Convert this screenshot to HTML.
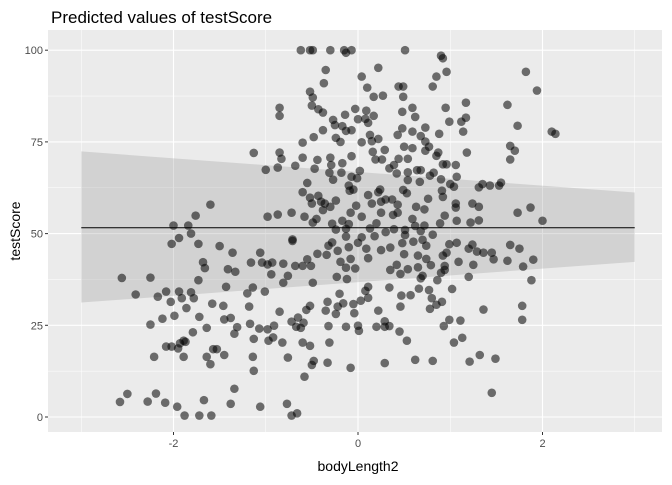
<!DOCTYPE html>
<html><head><meta charset="utf-8"><style>
body{margin:0;background:#fff;}
svg text{font-family:"Liberation Sans",sans-serif;}
</style></head><body>
<svg id="chart" width="672" height="480" viewBox="0 0 672 480" xmlns="http://www.w3.org/2000/svg">
<rect width="672" height="480" fill="#fff"/>
<text x="51" y="23" font-size="17" fill="#000">Predicted values of testScore</text>
<rect x="48" y="30" width="614" height="402" fill="#ebebeb"/>
<g id="grid"></g>
<g id="ribbon"></g>
<g id="points"></g>
<g id="line"></g>
<g id="axes"></g>
<text x="358" y="471" font-size="14" text-anchor="middle" fill="#000">bodyLength2</text>
<text transform="translate(20,231) rotate(-90)" font-size="14" text-anchor="middle" fill="#000">testScore</text>
</svg>
<script>
const xTicks=[-2,0,2];
const xMinor=[-3,-1,1,3];
const yTicks=[0,25,50,75,100];
const yMinor=[12.5,37.5,62.5,87.5];
const fitX=[-3,3];
const fitY=[51.6,51.6];
const lowerY=[31.2,42.3];
const upperY=[72.4,61.2];
const ptsX=[-0.62,-0.52,-0.49,-0.30,-0.15,-0.07,-0.13,-0.35,-0.37,-0.52,-0.49,-0.50,-0.43,-0.38,-0.85,-0.85,-0.03,-0.14,-0.27,-0.25,-0.17,-0.13,-0.07,-0.38,-0.48,-0.60,-0.24,-0.19,-1.13,-0.85,-0.83,-0.07,-0.60,-0.44,-0.30,-0.29,-0.17,-0.68,-0.87,-1.00,-0.47,-0.31,-0.18,-0.27,-0.07,-0.55,-0.10,-0.09,-0.60,-0.52,-0.43,-0.40,-0.50,-0.36,-0.24,-0.30,-0.02,-0.38,-0.08,-1.60,-1.76,-2.00,-1.84,-1.81,-1.94,-0.98,-0.87,-0.72,-0.58,-0.45,-0.49,-0.28,-0.17,-0.10,-0.24,-0.13,-0.71,-0.13,
0.51,0.90,0.92,0.96,0.85,0.81,1.82,1.94,0.22,0.04,0.10,0.44,0.49,0.17,0.27,0.49,1.17,1.62,0.09,0.48,0.59,0.95,0.17,0.62,0.00,0.08,0.11,0.99,1.12,1.17,1.73,2.10,2.14,1.14,0.48,0.43,0.59,0.73,0.68,0.88,0.13,0.22,0.04,0.15,0.50,0.59,0.73,0.77,0.73,0.29,0.16,0.85,0.87,1.18,1.65,1.70,1.65,0.44,0.54,0.19,0.26,0.39,0.34,0.42,0.54,0.64,0.68,0.92,0.96,1.06,0.02,-0.01,0.54,0.67,0.78,0.82,0.90,1.07,1.00,1.04,1.31,1.35,1.43,1.55,1.53,-0.05,0.24,0.22,0.49,0.53,0.11,0.30,0.37,0.25,0.15,0.76,0.92,0.91,0.43,0.63,0.72,1.06,1.06,1.24,1.31,0.04,0.25,0.43,0.38,0.94,1.73,1.87,0.59,1.07,1.22,1.31,2.00,0.89,0.20,0.13,0.30,0.39,0.51,0.62,0.72,0.68,0.81,0.04,0.18,0.51,
-2.02,-1.73,-1.50,-1.36,-0.71,-1.06,-1.68,-1.66,-1.41,-1.33,-1.16,-1.04,-0.98,-0.93,-0.81,-0.68,-0.60,-0.51,-0.55,-0.44,-0.34,-0.22,-0.32,-0.28,-0.10,-0.19,-0.08,-0.13,-0.03,-0.94,-0.76,-0.81,-0.49,-0.23,-0.12,-2.25,-1.73,-2.41,-2.17,-2.08,-1.94,-1.81,-1.78,-1.91,-2.03,-1.43,-1.14,-1.20,-1.01,-1.58,-1.46,-1.86,-1.18,-1.99,-2.12,-1.72,-2.25,-1.45,-1.38,-1.64,-1.79,-1.31,-1.34,-1.17,-1.07,-0.98,-0.91,-0.85,-1.89,-1.93,-1.87,-2.08,-2.02,-1.95,-1.57,-1.53,-1.45,-1.64,-1.60,-1.89,-2.21,-1.13,-1.14,-1.13,-0.97,-0.92,-0.82,-0.72,-0.65,-0.59,-0.67,-0.62,-0.52,-0.56,-0.35,-0.33,-0.24,-0.22,-0.16,-0.05,-0.04,-0.20,-0.32,-0.13,0.00,-0.60,-0.52,-0.31,-0.76,-0.48,-0.50,-0.33,-0.08,-0.58,-1.34,-2.19,-2.28,-2.09,-1.96,-1.67,-1.38,-1.06,-0.77,-1.88,-1.72,-1.59,-0.72,-0.66,-2.58,-2.50,-2.56,
0.00,0.09,0.25,0.35,0.48,0.60,0.70,0.74,0.99,1.07,1.24,1.20,1.29,1.36,1.45,1.47,1.62,1.65,1.75,1.90,1.79,1.88,0.96,0.92,0.65,0.74,0.50,0.11,0.42,0.54,0.46,0.35,0.65,0.79,0.94,0.94,1.09,1.25,1.20,0.90,0.68,0.86,0.70,0.34,0.11,0.08,0.11,0.03,0.66,0.77,0.47,0.57,0.80,1.02,0.91,0.85,0.78,0.46,0.22,1.36,1.78,1.78,0.99,1.11,0.93,0.01,0.20,0.29,0.29,0.34,0.45,0.53,1.13,1.04,1.32,1.49,1.21,0.62,0.81,0.29,1.45];
const ptsY=[100,100,100,100,100,100,99.3,94.6,91.0,88.7,87.1,84.9,83.9,83.0,84.3,82.1,84.0,82.4,81.0,79.6,79.3,78.0,78.2,78.2,76.3,74.8,76.1,75.0,72.0,72.1,70.4,71.1,70.7,70.1,70.7,68.7,69.2,68.5,68.0,67.4,67.7,66.6,66.6,64.7,65.5,63.8,63.1,61.7,61.3,59.8,60.3,58.7,58.2,58.2,59.0,57.3,57.6,56.4,55.7,57.9,54.9,52.2,52.2,50.0,48.8,54.6,55.2,55.7,54.6,54.0,53.0,52.7,53.5,52.6,51.1,51.3,48.4,49.2,
100,98.5,97.8,94.1,92.8,90.1,94.1,89.0,95.2,92.8,89.8,90.1,90.1,87.3,87.6,87.3,85.7,85.1,83.5,83.2,84.3,84.3,82.1,81.8,81.2,81.3,80.2,80.5,80.5,81.6,79.4,77.8,77.2,77.8,78.7,76.9,77.8,78.9,76.6,77.2,76.9,75.8,74.9,75.2,73.7,73.3,75.1,73.7,72.6,72.8,72.3,71.2,72.1,72.1,73.9,72.6,70.2,70.4,70.4,70.2,70.2,68.7,67.8,66.4,66.7,67.3,67.3,68.9,68.9,68.7,67.1,65.1,64.6,64.1,65.8,66.6,64.8,65.5,63.5,62.8,62.6,63.5,63.1,63.9,63.1,62.0,62.0,61.3,61.9,61.0,60.5,59.3,59.3,58.7,58.2,59.5,60.0,61.7,57.9,57.3,56.6,58.2,57.1,58.2,57.3,54.6,55.7,55.7,55.1,54.9,55.7,57.1,54.0,53.5,53.0,53.6,53.5,52.8,52.8,51.4,50.4,51.2,51.0,52.1,52.2,50.7,49.7,49.0,49.3,49.6,
47.2,47.2,46.6,44.8,48.0,44.8,42.2,40.6,40.3,39.6,42.1,42.1,41.6,42.1,41.8,41.2,41.2,41.2,43.0,44.5,44.2,45.3,46.7,47.6,46.3,42.3,43.1,40.7,40.5,38.9,38.5,36.6,36.6,38.2,37.6,38.0,37.3,33.4,32.8,34.2,34.2,34.0,32.4,32.4,31.4,35.5,35.3,33.7,34.2,30.9,30.3,29.7,30.1,27.6,26.8,27.3,25.2,26.6,27.0,24.3,23.1,24.5,22.7,25.4,24.1,23.9,24.9,28.7,20.8,20.1,20.5,19.2,19.2,18.7,18.5,18.5,16.9,16.4,14.4,16.4,16.4,21.3,16.4,12.6,20.8,21.7,20.3,26.0,27.1,25.7,24.6,24.3,30.3,29.2,29.0,31.4,28.1,30.1,31.0,30.8,28.3,33.6,24.8,24.6,24.9,20.3,19.4,20.3,16.2,15.3,14.2,14.8,13.4,11.0,7.7,6.4,4.2,3.9,2.8,4.6,3.6,2.8,3.6,0.4,0.4,0.4,0.4,1.0,4.1,6.3,37.9,
47.5,45.9,45.5,46.2,47.4,47.8,48.3,46.7,47.1,47.5,47.0,45.9,45.1,44.8,44.8,43.0,42.6,46.9,45.9,42.9,41.0,37.3,44.8,44.0,44.0,43.1,44.4,43.3,41.5,40.3,39.0,40.1,40.8,41.4,41.2,40.1,42.3,41.5,38.2,39.3,37.8,37.3,38.5,35.3,35.5,34.4,32.5,31.7,35.0,34.6,33.1,33.2,32.4,34.9,31.4,30.6,29.5,30.1,29.0,29.3,30.3,26.5,26.5,26.3,24.8,23.5,24.6,26.1,24.6,24.8,23.3,20.8,21.6,20.3,16.9,15.9,15.1,15.6,15.3,14.7,6.6];

const X0=48,X1=662,Y0=30,Y1=432;
function sx(v){return 358+v*92.25;}
function sy(v){return 417-v*3.668;}
const NS='http://www.w3.org/2000/svg';
function mk(tag,attrs,parent){const e=document.createElementNS(NS,tag);for(const k in attrs)e.setAttribute(k,attrs[k]);parent.appendChild(e);return e;}
const grid=document.getElementById('grid');
xMinor.forEach(v=>{const l=mk('line',{x1:sx(v),x2:sx(v),y1:Y0,y2:Y1,stroke:'#fff','stroke-width':0.5},grid);

});
yMinor.forEach(v=>{const l=mk('line',{x1:X0,x2:X1,y1:sy(v),y2:sy(v),stroke:'#fff','stroke-width':0.5},grid);

});
xTicks.forEach(v=>{const l=mk('line',{x1:sx(v),x2:sx(v),y1:Y0,y2:Y1,stroke:'#fff','stroke-width':1.1},grid);

});
yTicks.forEach(v=>{const l=mk('line',{x1:X0,x2:X1,y1:sy(v),y2:sy(v),stroke:'#fff','stroke-width':1.1},grid);

});
const rib=document.getElementById('ribbon');
const rp=mk('polygon',{points:`${sx(fitX[0])},${sy(upperY[0])} ${sx(fitX[1])},${sy(upperY[1])} ${sx(fitX[1])},${sy(lowerY[1])} ${sx(fitX[0])},${sy(lowerY[0])}`,fill:'#999','fill-opacity':0.3},rib);


const pg=document.getElementById('points');
for(let i=0;i<ptsX.length;i++){const c=mk('circle',{cx:sx(ptsX[i]),cy:sy(ptsY[i]),r:4.3,fill:'#000','fill-opacity':0.55},pg);

}
const ln=mk('line',{x1:sx(fitX[0]),x2:sx(fitX[1]),y1:sy(fitY[0]),y2:sy(fitY[1]),stroke:'#000','stroke-width':1},document.getElementById('line'));


const ax=document.getElementById('axes');
xTicks.forEach(v=>{const t=mk('line',{x1:sx(v),x2:sx(v),y1:Y1,y2:Y1+3,stroke:'#333','stroke-width':1},ax);


const tx=mk('text',{x:sx(v),y:Y1+15,'font-size':11,'text-anchor':'middle',fill:'#4d4d4d'},ax);tx.textContent=(v<0?'-':'')+Math.abs(v);

});
yTicks.forEach(v=>{const t=mk('line',{x1:X0-3,x2:X0,y1:sy(v),y2:sy(v),stroke:'#333','stroke-width':1},ax);


const tx=mk('text',{x:X0-5,y:sy(v)+4,'font-size':11,'text-anchor':'end',fill:'#4d4d4d'},ax);tx.textContent=v;

});
</script>
</body></html>
